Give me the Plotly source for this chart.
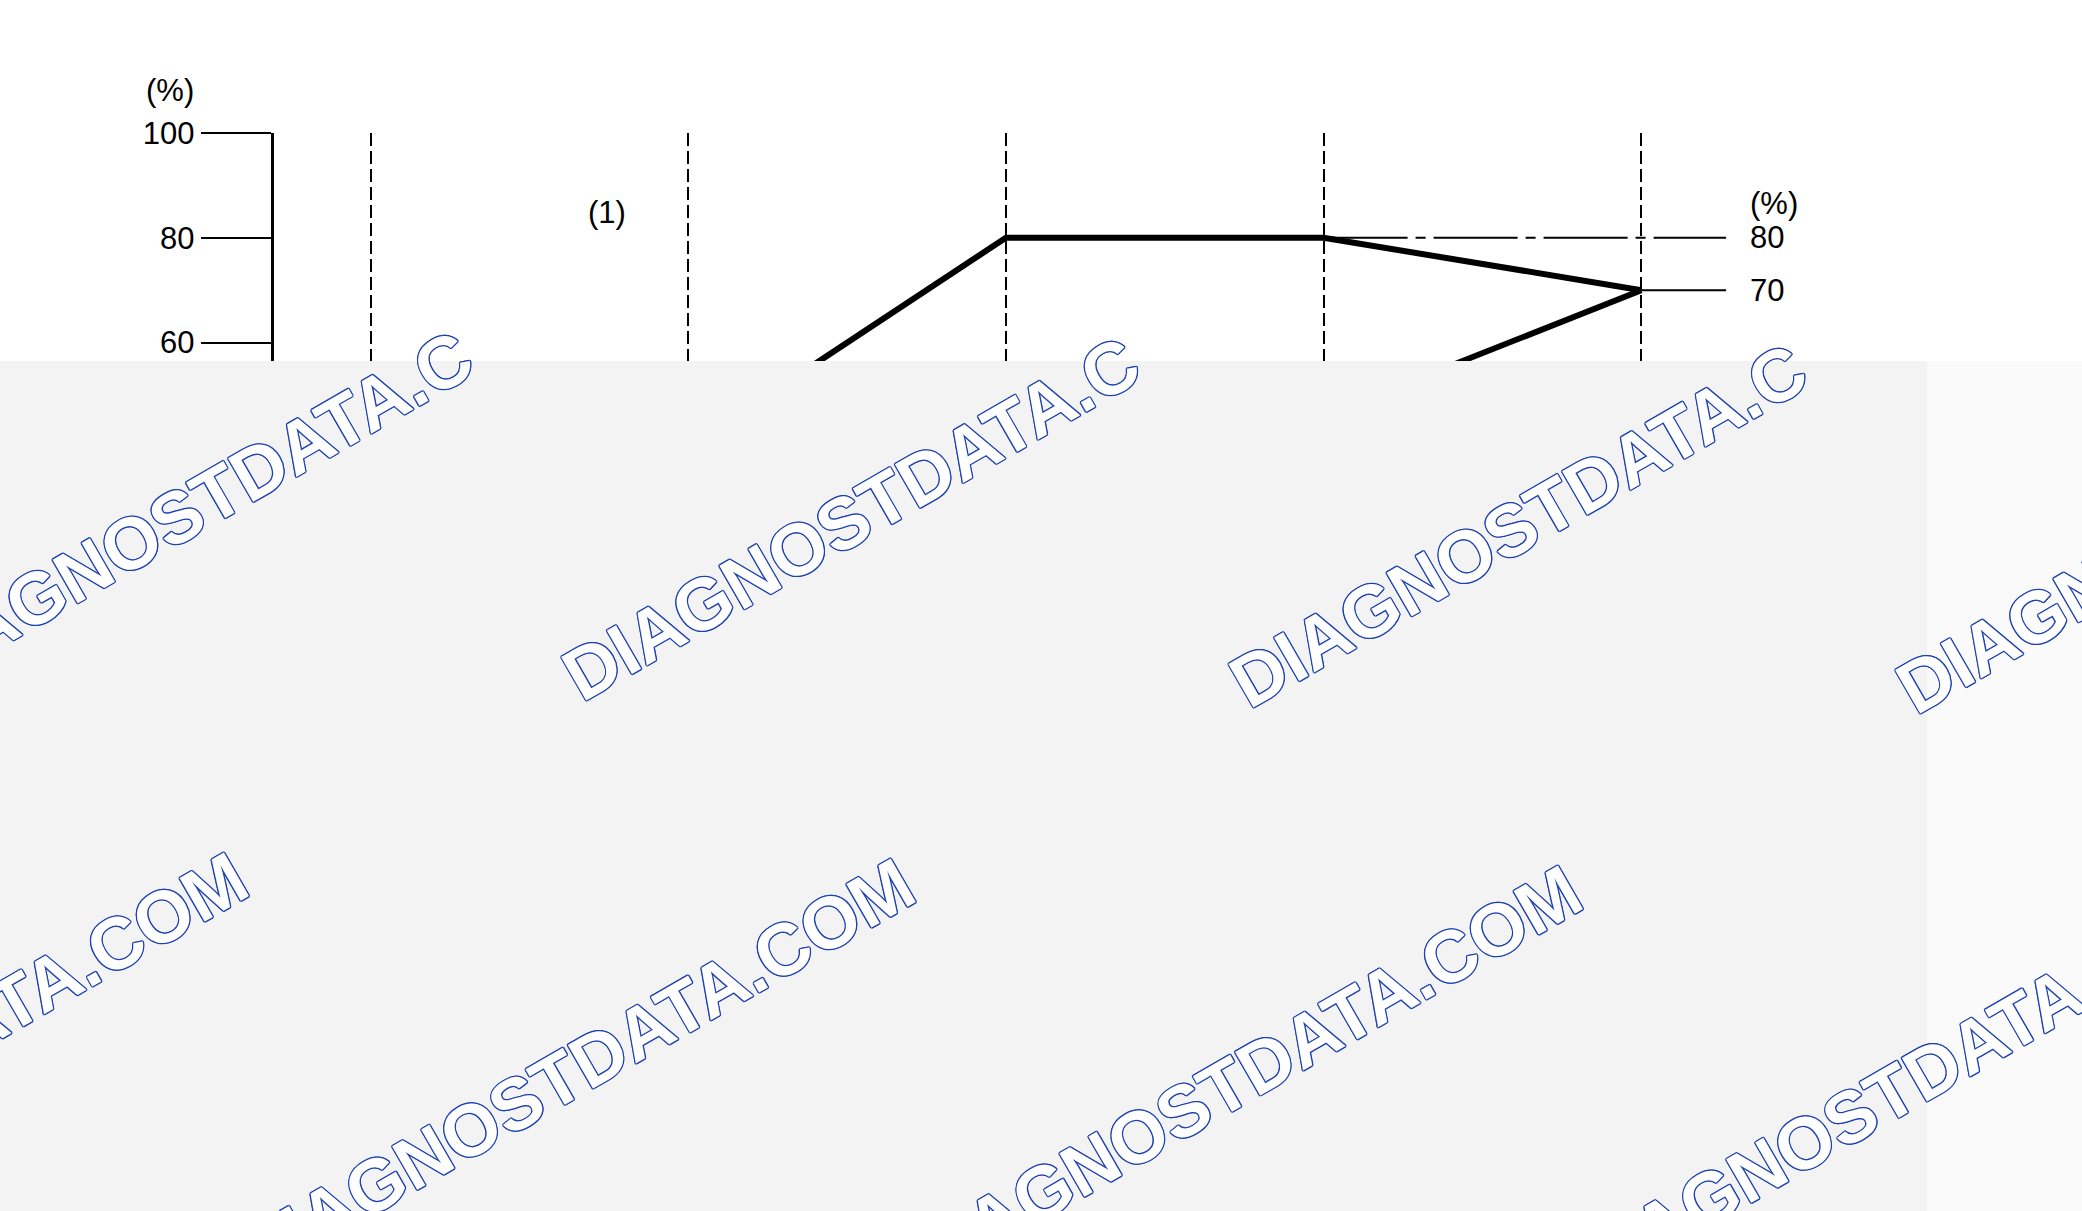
import math
import plotly.graph_objects as go

# ---- data ----
stages = [2, 3, 4, 5]
main_pct = [40, 80, 80, 70]
lower_stages = [4, 5]
lower_pct = [46, 70]
ref_stages = [4, 5.267]
ref_pct_80 = [80, 80]
tail_stages = [5, 5.267]
ref_pct_70 = [70, 70]
y_ticks = [100, 80, 60, 40, 20, 0]
right_labels = ["80", "70"]
right_label_pct = [80, 70]
grid_stages = [1, 2, 3, 4, 5]
watermark = "DIAGNOSTDATA.COM"

# ---- page geometry (pixels) ----
W, H = 2082, 1211
y100_px, px_per_pct = 132.8, 5.246
stage1_px, px_per_stage = 370.5, 317.7
axis_px = 273.6
band_top = 361


def stage_at(px):
    return 1 + (px - stage1_px) / px_per_stage


y_bottom = 100 - (H - y100_px) / px_per_pct

fig = go.Figure()
fig.add_trace(go.Scatter(x=stages, y=main_pct, mode="lines",
                         line=dict(color="black", width=6)))
fig.add_trace(go.Scatter(x=lower_stages, y=lower_pct, mode="lines",
                         line=dict(color="black", width=6)))
fig.add_trace(go.Scatter(x=ref_stages, y=ref_pct_80, mode="lines",
                         line=dict(color="black", width=2, dash="84px,8px,10px,8px")))
fig.add_trace(go.Scatter(x=tail_stages, y=ref_pct_70, mode="lines",
                         line=dict(color="black", width=2)))

txt = dict(family="Liberation Sans, Arial, sans-serif", size=31, color="black")

for lab, v in zip(right_labels, right_label_pct):
    fig.add_annotation(x=stage_at(1748), y=v, xref="x", yref="y", text=lab,
                       showarrow=False, xanchor="left", yanchor="middle", font=txt)
fig.add_annotation(x=stage_at(1748), y=86.6, xref="x", yref="y", text="(%)",
                   showarrow=False, xanchor="left", yanchor="middle", font=txt)
fig.add_annotation(x=1.744, y=84.8, xref="x", yref="y", text="(1)",
                   showarrow=False, font=txt)
fig.add_annotation(x=170 / W, y=1 - 90 / H, xref="paper", yref="paper", text="(%)",
                   showarrow=False, xanchor="center", yanchor="middle", font=txt)

# ---- watermark band ----
fig.add_shape(type="rect", xref="paper", yref="paper", x0=0, x1=1927 / W,
              y0=0, y1=1 - band_top / H, fillcolor="#f3f3f3", line_width=0, layer="above")
fig.add_shape(type="rect", xref="paper", yref="paper", x0=1927 / W, x1=1,
              y0=0, y1=1 - band_top / H, fillcolor="#fafafa", line_width=0, layer="above")

em = 73
ang = 30
widths = {"D": .722, "I": .278, "A": .722, "G": .778, "N": .722, "O": .778,
          "S": .667, "T": .611, ".": .278, "C": .722, "M": .833}
ca, sa = math.cos(math.radians(ang)), math.sin(math.radians(ang))
shadow = ", ".join(f"{dx}px {dy}px 0 #1f42b2" for dx, dy in
                   [(1.3, 0), (-1.3, 0), (0, 1.3), (0, -1.3),
                    (0.9, 0.9), (-0.9, -0.9), (0.9, -0.9), (-0.9, 0.9)])
rows = [((-90.5, 698.4), watermark[:14]), ((249.8 - 667, 1285.4 - 6.5), watermark)]
for (sx, sy), text in rows:
    for k in range(4):
        x0, y0 = sx + 667 * k, sy + 6.5 * k
        w = sum(widths[c] for c in text) * em
        cx = x0 + w / 2 * ca - 0.33 * em * sa
        cy = y0 - w / 2 * sa - 0.33 * em * ca
        fig.add_annotation(x=cx / W, y=1 - cy / H, xref="paper", yref="paper",
                           text=text, showarrow=False, textangle=-ang,
                           xanchor="center", yanchor="middle",
                           font=dict(family="Liberation Sans, Arial, sans-serif",
                                     size=em, color="white", weight="bold",
                                     shadow=shadow))

fig.update_layout(
    width=W, height=H, margin=dict(l=0, r=0, t=0, b=0, autoexpand=False),
    paper_bgcolor="white", plot_bgcolor="white", showlegend=False,
    xaxis=dict(domain=[axis_px / W, 1], range=[stage_at(axis_px), stage_at(W)],
               tickvals=grid_stages, showticklabels=False, ticks="",
               showgrid=True, gridcolor="black", gridwidth=2, griddash="13px,5px",
               zeroline=False, showline=False, automargin=False),
    yaxis=dict(domain=[0, 1 - y100_px / H], range=[y_bottom, 100],
               tickvals=y_ticks, ticks="outside", ticklen=70, tickwidth=2,
               tickcolor="black", showline=True, linecolor="black", linewidth=3,
               showgrid=False, zeroline=False, tickfont=txt, automargin=False),
)

fig.write_html("out.html", config={"displayModeBar": False},
               post_script="document.body.style.margin='0';document.body.style.overflow='hidden';")
